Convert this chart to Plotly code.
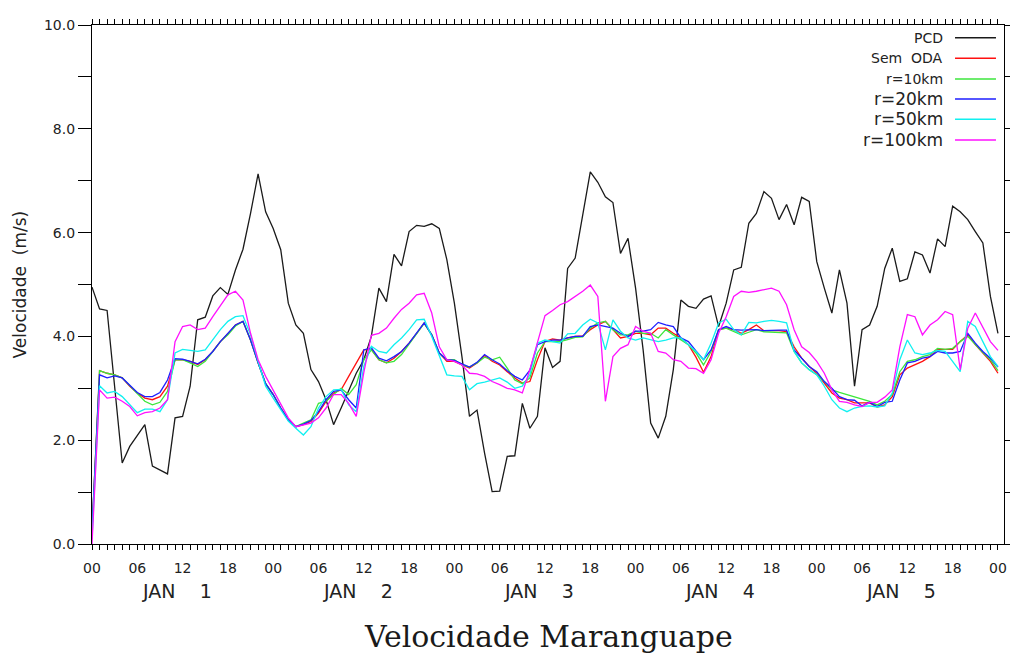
import plotly.graph_objects as go

# Hourly wind speed (m/s), 00Z Jan 1 to 00Z Jan 6
hours = list(range(121))

pcd = [
    4.95, 4.53, 4.50, 3.03, 1.56, 1.88, 2.10, 2.30, 1.50, 1.43, 1.35, 2.43, 2.46, 3.04, 4.32, 4.37, 4.78, 4.94, 4.81, 5.28, 5.68,
    6.37, 7.13, 6.40, 6.08, 5.67, 4.64, 4.22, 4.06, 3.36, 3.13, 2.78, 2.30, 2.62, 2.97, 3.29, 3.55, 4.00, 4.93, 4.67, 5.58,
    5.36, 6.02, 6.14, 6.12, 6.17, 6.08, 5.48, 4.64, 3.61, 2.46, 2.58, 1.75, 1.01, 1.02, 1.69, 1.70, 2.71, 2.23, 2.46, 3.78,
    3.40, 3.52, 5.31, 5.51, 6.37, 7.17, 6.97, 6.69, 6.58, 5.60, 5.89, 4.93, 3.74, 2.33, 2.04, 2.46, 3.36, 4.70, 4.58, 4.54,
    4.72, 4.78, 4.19, 4.64, 5.28, 5.33, 6.18, 6.37, 6.79, 6.66, 6.25, 6.54, 6.15, 6.68, 6.60, 5.44, 4.93, 4.45, 5.28, 4.64,
    3.04, 4.13, 4.22, 4.58, 5.31, 5.70, 5.06, 5.11, 5.63, 5.57, 5.22, 5.88, 5.73, 6.51, 6.40, 6.25, 6.02, 5.80, 4.77, 4.06,
]

sem_oda = [
    0.25, 3.34, 3.29, 3.26, 3.20, 3.04, 2.91, 2.81, 2.78, 2.84, 3.04, 3.55, 3.55, 3.52, 3.46, 3.55, 3.71, 3.90, 4.05, 4.22, 4.29,
    3.93, 3.49, 3.09, 2.88, 2.62, 2.39, 2.26, 2.30, 2.36, 2.52, 2.75, 2.91, 2.97, 3.23, 3.49, 3.74, 3.75, 3.55, 3.49, 3.58,
    3.71, 3.87, 4.06, 4.26, 4.03, 3.68, 3.52, 3.52, 3.45, 3.39, 3.49, 3.63, 3.52, 3.45, 3.32, 3.20, 3.10, 3.13, 3.55, 3.90,
    3.95, 3.93, 3.97, 4.00, 4.01, 4.13, 4.22, 4.29, 4.13, 3.97, 4.00, 4.06, 4.06, 4.03, 4.16, 4.16, 4.06, 3.97, 3.84, 3.60,
    3.31, 3.61, 4.13, 4.16, 4.13, 4.06, 4.13, 4.22, 4.11, 4.11, 4.11, 4.09, 3.80, 3.58, 3.42, 3.29, 3.10, 2.91, 2.81, 2.78,
    2.72, 2.72, 2.72, 2.64, 2.68, 2.84, 3.26, 3.39, 3.45, 3.52, 3.61, 3.75, 3.75, 3.75, 3.90, 4.03, 3.84, 3.68, 3.52, 3.29,
]

r10 = [
    0.25, 3.34, 3.29, 3.26, 3.20, 3.04, 2.90, 2.75, 2.68, 2.73, 2.94, 3.55, 3.55, 3.49, 3.42, 3.52, 3.71, 3.90, 4.03, 4.20, 4.29,
    3.93, 3.49, 3.09, 2.88, 2.62, 2.39, 2.26, 2.33, 2.39, 2.71, 2.75, 2.88, 3.00, 2.88, 3.07, 3.55, 3.74, 3.55, 3.49, 3.52,
    3.65, 3.85, 4.05, 4.25, 4.03, 3.68, 3.55, 3.55, 3.45, 3.41, 3.49, 3.60, 3.55, 3.60, 3.39, 3.16, 3.09, 3.20, 3.68, 3.90,
    3.90, 3.90, 3.94, 3.98, 3.99, 4.16, 4.26, 4.29, 4.13, 4.03, 4.03, 4.10, 4.06, 4.06, 3.97, 4.13, 4.03, 3.93, 3.84, 3.68,
    3.45, 3.71, 4.13, 4.16, 4.10, 4.03, 4.08, 4.13, 4.09, 4.08, 4.07, 4.07, 3.71, 3.49, 3.36, 3.26, 3.13, 2.97, 2.92, 2.88,
    2.83, 2.79, 2.75, 2.68, 2.75, 2.88, 3.32, 3.52, 3.55, 3.61, 3.65, 3.77, 3.75, 3.77, 3.90, 4.00, 3.84, 3.69, 3.55, 3.34,
]

r20 = [
    0.27, 3.26, 3.20, 3.24, 3.20, 3.05, 2.92, 2.84, 2.84, 2.92, 3.16, 3.57, 3.56, 3.52, 3.47, 3.56, 3.71, 3.90, 4.06, 4.22, 4.29,
    3.93, 3.49, 3.09, 2.88, 2.62, 2.39, 2.26, 2.31, 2.38, 2.55, 2.78, 2.94, 2.97, 2.78, 2.62, 3.74, 3.78, 3.58, 3.53, 3.61,
    3.71, 3.87, 4.06, 4.26, 4.03, 3.68, 3.55, 3.54, 3.47, 3.41, 3.50, 3.65, 3.55, 3.47, 3.34, 3.23, 3.16, 3.35, 3.84, 3.90,
    3.93, 3.93, 3.97, 4.00, 4.00, 4.19, 4.22, 4.19, 4.16, 4.06, 4.00, 4.10, 4.10, 4.13, 4.27, 4.22, 4.19, 3.97, 3.90, 3.72,
    3.55, 3.74, 4.13, 4.19, 4.13, 4.12, 4.12, 4.13, 4.11, 4.12, 4.12, 4.12, 3.74, 3.58, 3.42, 3.32, 3.13, 3.00, 2.84, 2.78,
    2.77, 2.66, 2.73, 2.65, 2.73, 2.75, 3.16, 3.49, 3.52, 3.58, 3.61, 3.71, 3.68, 3.68, 3.71, 4.06, 3.87, 3.71, 3.58, 3.41,
]

r50 = [
    0.10, 3.05, 2.91, 2.94, 2.84, 2.68, 2.53, 2.60, 2.60, 2.55, 2.78, 3.68, 3.75, 3.73, 3.71, 3.74, 3.93, 4.13, 4.29, 4.38, 4.40,
    4.03, 3.52, 3.04, 2.81, 2.60, 2.37, 2.23, 2.10, 2.26, 2.62, 2.84, 2.97, 2.98, 2.68, 2.55, 3.42, 3.81, 3.71, 3.68, 3.84,
    3.97, 4.13, 4.32, 4.33, 4.00, 3.61, 3.26, 3.24, 3.23, 2.97, 3.09, 3.12, 3.16, 3.20, 3.12, 3.00, 3.04, 3.26, 3.87, 3.93,
    3.90, 3.87, 4.05, 4.06, 4.22, 4.33, 4.26, 3.74, 4.32, 4.10, 3.97, 3.93, 3.97, 3.93, 3.90, 3.93, 3.97, 3.97, 3.84, 3.71,
    3.55, 3.87, 4.26, 4.33, 4.13, 4.03, 4.27, 4.26, 4.29, 4.31, 4.29, 4.26, 3.71, 3.49, 3.36, 3.26, 3.04, 2.78, 2.62, 2.55,
    2.62, 2.65, 2.66, 2.64, 2.66, 2.91, 3.55, 3.93, 3.68, 3.65, 3.68, 3.73, 3.71, 3.52, 3.32, 4.29, 4.19, 3.90, 3.61, 3.42,
]

r100 = [
    0.00, 2.97, 2.81, 2.83, 2.75, 2.65, 2.47, 2.53, 2.55, 2.62, 2.78, 3.90, 4.19, 4.22, 4.13, 4.16, 4.38, 4.58, 4.80, 4.87, 4.70,
    4.06, 3.55, 3.23, 2.97, 2.71, 2.43, 2.26, 2.30, 2.33, 2.43, 2.62, 2.88, 2.88, 2.71, 2.46, 3.30, 4.02, 4.06, 4.16, 4.35,
    4.52, 4.64, 4.80, 4.83, 4.45, 3.80, 3.55, 3.52, 3.45, 3.29, 3.28, 3.23, 3.13, 3.07, 3.00, 2.97, 2.91, 3.36, 3.87, 4.40,
    4.50, 4.61, 4.67, 4.77, 4.87, 4.99, 4.77, 2.75, 3.61, 3.77, 3.84, 4.19, 4.10, 4.06, 3.71, 3.68, 3.55, 3.52, 3.39, 3.38,
    3.29, 3.55, 4.06, 4.38, 4.77, 4.87, 4.85, 4.87, 4.90, 4.93, 4.87, 4.61, 4.13, 3.80, 3.69, 3.52, 3.29, 2.97, 2.75, 2.73,
    2.68, 2.65, 2.73, 2.73, 2.83, 2.97, 3.80, 4.42, 4.38, 4.03, 4.22, 4.32, 4.48, 4.42, 3.36, 4.16, 4.45, 4.16, 3.90, 3.73,
]

series_names = ["PCD", "Sem  ODA", "r=10km", "r=20km", "r=50km", "r=100km"]
series_values = [pcd, sem_oda, r10, r20, r50, r100]
series_colors = ["#1a1a1a", "#ff1010", "#3ce63c", "#1e1eff", "#10f0f0", "#ff10ff"]
legend_font_sizes = [14, 14, 14, 17, 17, 17]

hour_ticks = list(range(0, 121, 6))
hour_labels = ["%02d" % (h % 24) for h in hour_ticks]
day_ticks = list(range(0, 121, 24))
day_labels = ["JAN\u00a0\u00a0\u00a0\u00a0%d" % d for d in range(1, 6)]
day_centers = [12 + 24 * i for i in range(5)]

y_ticks = [0, 2, 4, 6, 8, 10]
y_labels = ["%.1f" % v for v in y_ticks]

sans = "DejaVu Sans"
ink = "#222222"

fig = go.Figure()
for name, vals, color in zip(series_names, series_values, series_colors):
    fig.add_trace(go.Scatter(
        x=hours, y=vals, mode="lines", name=name,
        line=dict(color=color, width=1.3), showlegend=False,
    ))

x_range = [0, 120.8]

fig.update_layout(
    width=1010, height=657,
    margin=dict(l=92, r=6, t=25, b=113),
    paper_bgcolor="white", plot_bgcolor="white",
    showlegend=False,
    xaxis=dict(
        range=x_range, tickmode="array", tickvals=hour_ticks, ticktext=hour_labels,
        ticks="outside", ticklen=5, tickwidth=1, tickcolor="black",
        minor=dict(dtick=1, tick0=0, ticks="outside", ticklen=5, tickwidth=1, tickcolor="black"),
        showline=True, linecolor="black", linewidth=1.3, mirror="allticks",
        showgrid=False, zeroline=False, ticklabelstandoff=6, automargin=False,
        tickfont=dict(family=sans, size=14, color=ink),
    ),
    xaxis2=dict(
        range=x_range, overlaying="x", anchor="y", side="bottom",
        tickmode="array", tickvals=day_ticks, ticks="outside", ticklen=11,
        tickwidth=1, tickcolor="black", showticklabels=False, automargin=False,
        showline=False, mirror="allticks", showgrid=False, zeroline=False,
    ),
    yaxis=dict(
        range=[0, 10], tickmode="array", tickvals=y_ticks, ticktext=y_labels,
        ticks="outside", ticklen=13, tickwidth=1, tickcolor="black",
        minor=dict(dtick=1, tick0=0, ticks="outside", ticklen=13, tickwidth=1, tickcolor="black"),
        showline=True, linecolor="black", linewidth=1.3, mirror="allticks",
        showgrid=False, zeroline=False, automargin=False,
        tickfont=dict(family=sans, size=14, color=ink),
    ),
)

annotations = []
for xc, lab in zip(day_centers, day_labels):
    annotations.append(dict(
        x=xc, xref="x", y=-0.09, yref="paper", text=lab, showarrow=False,
        xanchor="center", yanchor="middle", xshift=-6,
        font=dict(family=sans, size=19, color=ink),
    ))

annotations.append(dict(
    x=0.5, xref="paper", y=-0.178, yref="paper", text="Velocidade Maranguape",
    showarrow=False, xanchor="center", yanchor="middle",
    font=dict(family="DejaVu Serif", size=30, color="#1a1a1a"),
))

annotations.append(dict(
    x=-0.079, xref="paper", y=0.5, yref="paper", text="Velocidade\u00a0\u00a0(m/s)",
    showarrow=False, textangle=-90, xanchor="center", yanchor="middle",
    font=dict(family=sans, size=17, color=ink),
))

# Legend block in the upper right corner
legend_rows = [0.9755, 0.9359, 0.8960, 0.8575, 0.8184, 0.7785]
shapes = []
for name, color, fs, yr in zip(series_names, series_colors, legend_font_sizes, legend_rows):
    annotations.append(dict(
        x=0.9353, xref="paper", y=yr, yref="paper", text=name.replace(" ", "\u00a0"),
        showarrow=False, xanchor="right", yanchor="middle",
        font=dict(family=sans, size=fs, color=ink),
    ))
    shapes.append(dict(
        type="line", xref="paper", yref="paper",
        x0=0.9463, x1=0.9912, y0=yr, y1=yr,
        line=dict(color=color, width=1.6),
    ))

fig.update_layout(annotations=annotations, shapes=shapes)

fig.write_html("out.html")
